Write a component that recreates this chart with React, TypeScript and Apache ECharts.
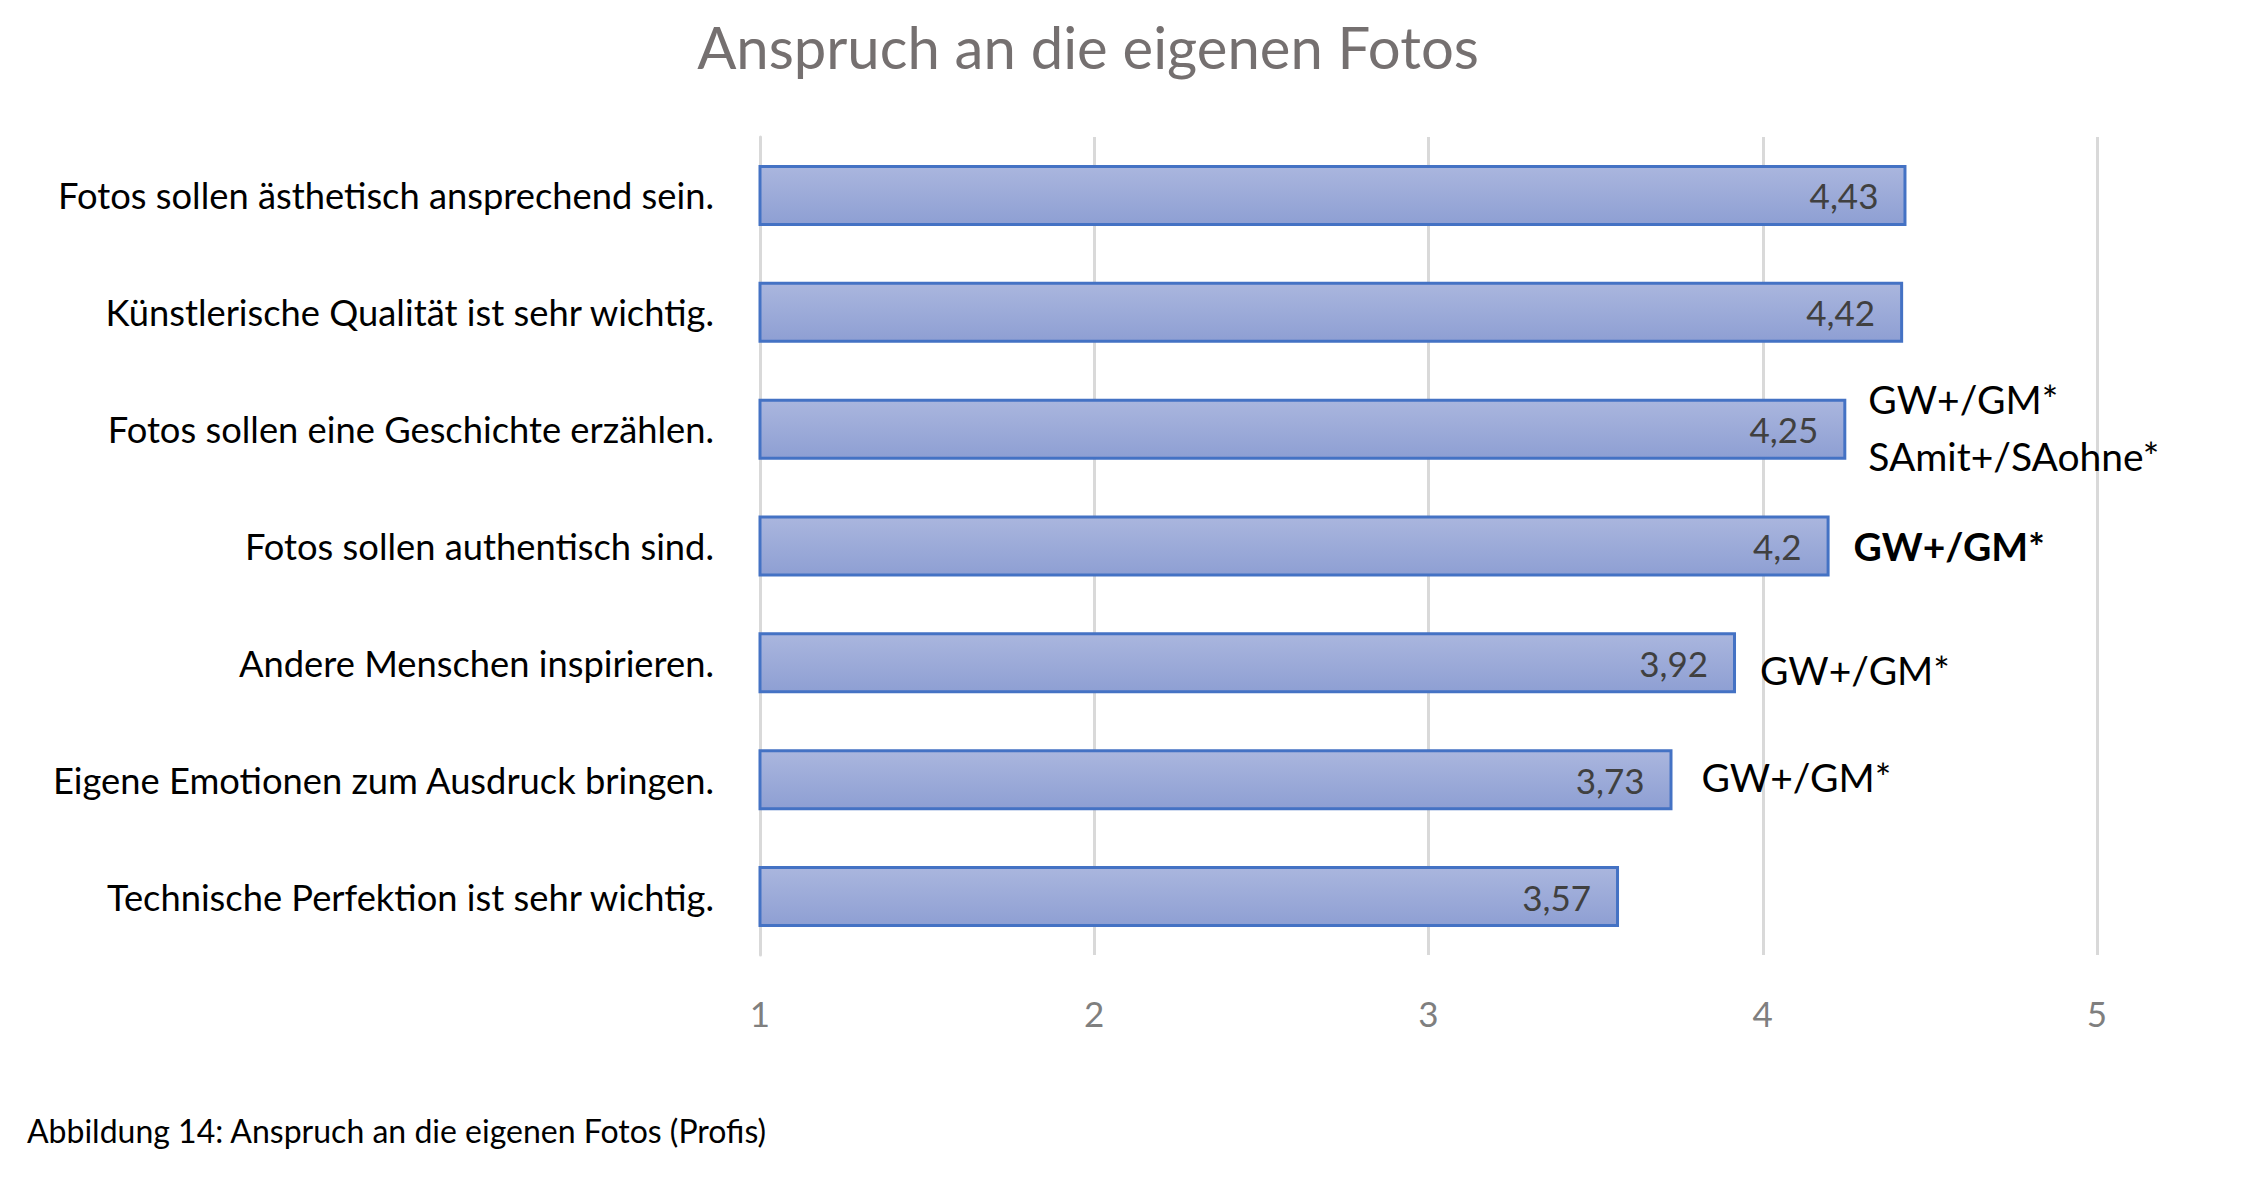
import React, { useEffect, useRef } from "react";
import * as echarts from "echarts";

const title = "Anspruch an die eigenen Fotos";
const caption = "Abbildung 14: Anspruch an die eigenen Fotos (Profis)";
const categories = [
  "Fotos sollen ästhetisch ansprechend sein.",
  "Künstlerische Qualität ist sehr wichtig.",
  "Fotos sollen eine Geschichte erzählen.",
  "Fotos sollen authentisch sind.",
  "Andere Menschen inspirieren.",
  "Eigene Emotionen zum Ausdruck bringen.",
  "Technische Perfektion ist sehr wichtig.",
];
const values = [4.43, 4.42, 4.25, 4.2, 3.92, 3.73, 3.57];
const annotations = ["", "", "GW+/GM*\nSAmit+/SAohne*", "GW+/GM*", "GW+/GM*", "GW+/GM*", ""];
const annotationBold = [false, false, false, true, false, false, false];
const xTicks = [1, 2, 3, 4, 5];

const FONT = "Lato";
const annDistance = [22, 22, 22, 24, 24, 29, 22];
const annOffsetY = [0, 0, -2, 0, 7, -3, 0];

export default function App() {
  const ref = useRef<HTMLDivElement>(null);
  useEffect(() => {
    if (!ref.current) return;
    const chart = echarts.init(ref.current, null, { renderer: "svg" });
    const fill = new echarts.graphic.LinearGradient(0, 0, 0, 1, [
      { offset: 0, color: "#aab6de" },
      { offset: 1, color: "#8e9fd3" },
    ]);
    chart.setOption({
      animation: false,
      backgroundColor: "#ffffff",
      graphic: [
        {
          type: "text",
          x: 1088,
          y: 46,
          style: {
            text: title,
            fontFamily: FONT,
            fontSize: 58,
            fill: "#757070",
            align: "center",
            verticalAlign: "middle",
          },
        },
        {
          type: "text",
          x: 27,
          y: 1130,
          style: {
            text: caption,
            fontFamily: FONT,
            fontSize: 32,
            fill: "#000000",
            align: "left",
            verticalAlign: "middle",
          },
        },
      ],
      grid: { left: 760, right: 169, top: 137, height: 818, containLabel: false },
      xAxis: {
        type: "value",
        min: xTicks[0],
        max: xTicks[xTicks.length - 1],
        interval: 1,
        axisLine: { show: false },
        axisTick: { show: false },
        splitLine: { show: true, lineStyle: { color: "#d9d9d9", width: 3 } },
        axisLabel: {
          color: "#7f7f7f",
          fontFamily: FONT,
          fontSize: 35,
          margin: 40,
        },
      },
      yAxis: {
        type: "category",
        inverse: true,
        data: categories,
        axisTick: { show: false },
        axisLine: { show: true, lineStyle: { color: "#d9d9d9", width: 3 } },
        axisLabel: {
          color: "#000000",
          fontFamily: FONT,
          fontSize: 36.3,
          margin: 46,
        },
      },
      series: [
        {
          type: "bar",
          data: values,
          barWidth: 61,
          itemStyle: { color: fill, borderColor: "#4472c4", borderWidth: 3 },
          label: {
            show: true,
            position: "insideRight",
            distance: 28,
            color: "#404040",
            fontFamily: FONT,
            fontSize: 35,
            formatter: (p: any) => String(p.value).replace(".", ","),
          },
          z: 2,
        },
        {
          type: "bar",
          barGap: "-100%",
          barWidth: 61,
          silent: true,
          itemStyle: { color: "rgba(0,0,0,0)" },
          data: values.map((v, i) => ({
            value: v,
            label: {
              show: annotations[i] !== "",
              position: "right",
              distance: annDistance[i],
              offset: [0, annOffsetY[i]],
              formatter: annotations[i],
              fontWeight: annotationBold[i] ? "bold" : "normal",
            },
          })),
          label: {
            color: "#000000",
            fontFamily: FONT,
            fontSize: 39,
            lineHeight: 57,
            align: "left",
          },
          z: 3,
        },
      ],
    });
    return () => chart.dispose();
  }, []);
  return (
    <div
      ref={ref}
      style={{ position: "fixed", left: 0, top: 0, width: 2266, height: 1198, background: "#fff" }}
    />
  );
}
